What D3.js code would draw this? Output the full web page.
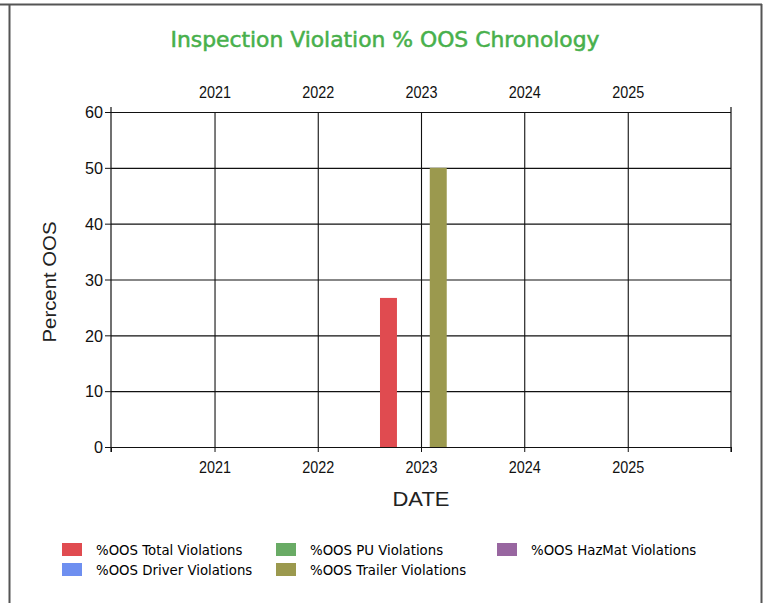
<!DOCTYPE html>
<html>
<head>
<meta charset="utf-8">
<script src="https://cdn.jsdelivr.net/npm/d3@7"></script>
<style>
  body { margin: 0; background: #fff; }
  svg { display: block; }
</style>
</head>
<body>
<svg id="chart" width="772" height="603"></svg>
<script>
// chart values
const years = [2021, 2022, 2023, 2024, 2025];
const yTicks = [0, 10, 20, 30, 40, 50, 60];
const seriesNames = ["%OOS Total Violations", "%OOS PU Violations", "%OOS HazMat Violations",
                     "%OOS Driver Violations", "%OOS Trailer Violations"];
const seriesColors = ["#e04b50", "#69ab65", "#9866a0", "#6e8ff0", "#9b994e"];
const barDates = ["2022-09-08", "2023-03-03"];
const totalViolations = [26.7, 0];
const puViolations = [0, 0];
const hazmatViolations = [0, 0];
const driverViolations = [0, 0];
const trailerViolations = [0, 50];

const seriesValues = [totalViolations, puViolations, hazmatViolations, driverViolations, trailerViolations];
const parse = d3.timeParse("%Y-%m-%d");

const svg = d3.select('#chart');
const margin = { left: 111, right: 41, top: 112, bottom: 156 };
const width = 772 - margin.left - margin.right;
const height = 603 - margin.top - margin.bottom;

// outer frame
svg.append('line').attr('x1', 0).attr('x2', 762).attr('y1', 4.5).attr('y2', 4.5)
  .attr('stroke', '#555').attr('stroke-width', 2);
svg.append('line').attr('x1', 9.5).attr('x2', 9.5).attr('y1', 4).attr('y2', 603)
  .attr('stroke', '#555').attr('stroke-width', 2);
svg.append('line').attr('x1', 761.5).attr('x2', 761.5).attr('y1', 4).attr('y2', 603)
  .attr('stroke', '#555').attr('stroke-width', 2);

svg.append('text')
  .attr('x', 385).attr('y', 47)
  .attr('text-anchor', 'middle')
  .attr('fill', '#48b04c')
  .attr('stroke', '#48b04c').attr('stroke-width', 0.5)
  .style('font-family', '"DejaVu Sans Condensed", "DejaVu Sans", sans-serif')
  .style('font-size', '22px')
  .attr('textLength', 429).attr('lengthAdjust', 'spacingAndGlyphs')
  .text('Inspection Violation % OOS Chronology');

const xScale = d3.scaleTime()
  .domain([new Date(2020, 0, 1), new Date(2026, 0, 1)])
  .range([0, width]);
const yScale = d3.scaleLinear().domain([0, 60]).range([height, 0]);
const yearDates = years.map(y => new Date(y, 0, 1));

const plot = svg.append('g')
  .attr('transform', `translate(${margin.left},${margin.top})`);

const fontAxis = '"Liberation Sans", Arial, sans-serif';

// grid
plot.append('g')
  .attr('class', 'grid-x')
  .attr('transform', `translate(0,${height})`)
  .call(d3.axisBottom(xScale).tickValues(yearDates).tickSize(-height).tickFormat(''))
  .call(g => g.select('.domain').remove());
plot.append('g')
  .attr('class', 'grid-y')
  .call(d3.axisLeft(yScale).tickValues(yTicks).tickSize(-width).tickFormat(''))
  .call(g => g.select('.domain').remove());
plot.selectAll('.grid-x line, .grid-y line').attr('stroke', '#111').attr('stroke-width', 1.1);

// bars
seriesValues.forEach((vals, si) => {
  const pts = barDates.map((d, i) => ({ date: parse(d), value: vals[i] })).filter(p => p.value > 0);
  plot.selectAll('.bar-' + si)
    .data(pts)
    .join('rect')
    .attr('class', 'bar bar-' + si)
    .attr('x', p => xScale(d3.timeDay.offset(p.date, -30)))
    .attr('width', p => xScale(d3.timeDay.offset(p.date, 30)) - xScale(d3.timeDay.offset(p.date, -30)))
    .attr('y', p => yScale(p.value))
    .attr('height', p => height - yScale(p.value))
    .attr('fill', seriesColors[si]);
});

// axes
const xAxis = plot.append('g')
  .attr('class', 'x-axis')
  .attr('transform', `translate(0,${height})`)
  .call(d3.axisBottom(xScale).tickValues([xScale.domain()[0], ...yearDates, xScale.domain()[1]])
    .tickSize(5).tickPadding(10)
    .tickFormat(d => years.includes(d.getFullYear()) && d.getMonth() === 0 && d > xScale.domain()[0] && d < xScale.domain()[1] ? d3.timeFormat('%Y')(d) : ''));
xAxis.select('.domain').remove();

const topAxis = plot.append('g')
  .attr('class', 'x-axis-top')
  .call(d3.axisTop(xScale).tickValues(yearDates).tickSize(0).tickPadding(14).tickFormat(d3.timeFormat('%Y')));
topAxis.select('.domain').remove();

const yAxis = plot.append('g')
  .attr('class', 'y-axis')
  .call(d3.axisLeft(yScale).tickValues(yTicks).tickSize(6).tickPadding(2));
yAxis.select('.domain').remove();

plot.selectAll('.x-axis line, .y-axis line').attr('stroke', '#111');
plot.selectAll('.x-axis text, .x-axis-top text, .y-axis text')
  .attr('fill', '#111')
  .style('font-family', fontAxis)
  .style('font-size', '16px');
plot.selectAll('.x-axis text, .x-axis-top text')
  .filter(function () { return this.textContent !== ''; })
  .attr('textLength', 32).attr('lengthAdjust', 'spacingAndGlyphs');
plot.selectAll('.y-axis text')
  .attr('textLength', function () { return this.textContent.length * 9; })
  .attr('lengthAdjust', 'spacingAndGlyphs')
  .attr('dy', '0.36em');

// left and right frame lines of the plot
plot.append('line').attr('x1', 0).attr('x2', 0).attr('y1', -5).attr('y2', height + 5)
  .attr('stroke', '#111').attr('stroke-width', 1.2);
plot.append('line').attr('x1', width).attr('x2', width).attr('y1', -5).attr('y2', height + 5)
  .attr('stroke', '#111').attr('stroke-width', 1.2);

// axis titles
svg.append('text')
  .attr('transform', `translate(56, 282) rotate(-90)`)
  .attr('text-anchor', 'middle')
  .attr('fill', '#222')
  .style('font-family', fontAxis)
  .style('font-size', '19px')
  .attr('textLength', 121).attr('lengthAdjust', 'spacingAndGlyphs')
  .text('Percent OOS');
svg.append('text')
  .attr('x', 421).attr('y', 506)
  .attr('text-anchor', 'middle')
  .attr('fill', '#222')
  .style('font-family', fontAxis)
  .style('font-size', '21px')
  .attr('textLength', 57).attr('lengthAdjust', 'spacingAndGlyphs')
  .text('DATE');

// legend
const legendX = [62, 276, 497];
const legendY = [543, 563];
const legend = svg.append('g').attr('class', 'legend');
seriesNames.forEach((name, i) => {
  const col = i < 3 ? i : i - 3;
  const row = i < 3 ? 0 : 1;
  const g = legend.append('g').attr('transform', `translate(${legendX[col]},${legendY[row]})`);
  g.append('rect').attr('width', 20).attr('height', 13).attr('fill', seriesColors[i]);
  g.append('text')
    .attr('x', 34).attr('y', 11.5)
    .attr('fill', '#000')
    .style('font-family', '"DejaVu Sans", sans-serif')
    .style('font-size', '13.3px')
    .text(name);
});
</script>
</body>
</html>
